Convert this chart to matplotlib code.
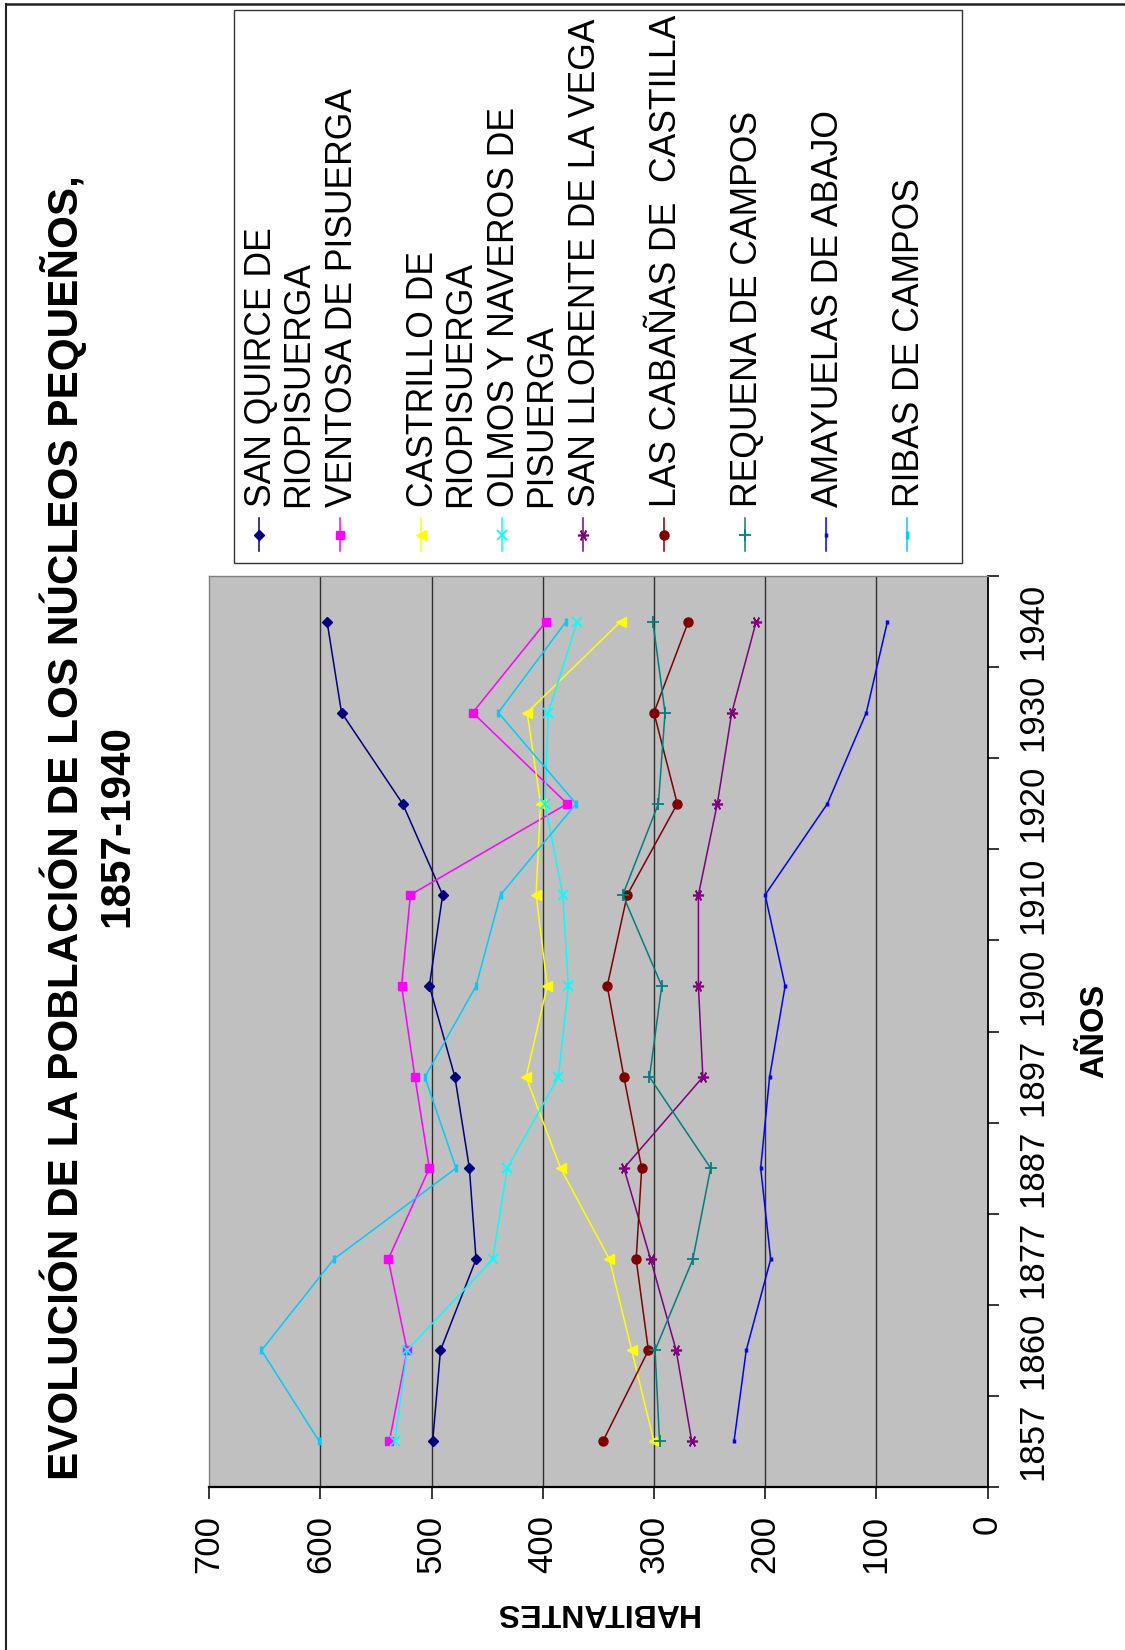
import numpy as np
import matplotlib
matplotlib.use("Agg")
import matplotlib.pyplot as plt

# population of the small villages, one value per year
years = ["1857", "1860", "1877", "1887", "1897", "1900", "1910", "1920", "1930", "1940"]

san_quirce = [499, 492, 460, 466, 479, 502, 490, 526, 581, 594]
ventosa = [538, 522, 539, 502, 515, 527, 519, 378, 463, 397]
castrillo = [300, 320, 340, 384, 415, 396, 406, 402, 414, 330]
olmos = [533, 522, 445, 432, 386, 377, 382, 398, 395, 369]
san_llorente = [266, 280, 303, 327, 256, 260, 260, 243, 230, 208]
cabanas = [346, 305, 316, 311, 327, 342, 324, 279, 300, 269]
requena = [295, 299, 265, 249, 304, 293, 328, 296, 290, 301]
amayuelas = [228, 217, 195, 204, 196, 182, 200, 144, 109, 90]
ribas = [601, 653, 588, 478, 506, 460, 438, 370, 440, 379]

legend_labels = [
    "SAN QUIRCE DE\nRIOPISUERGA",
    "VENTOSA DE PISUERGA",
    "CASTRILLO DE\nRIOPISUERGA",
    "OLMOS Y NAVEROS DE\nPISUERGA",
    "SAN LLORENTE DE LA VEGA",
    "LAS CABAÑAS DE  CASTILLA",
    "REQUENA DE CAMPOS",
    "AMAYUELAS DE ABAJO",
    "RIBAS DE CAMPOS",
]

series = [san_quirce, ventosa, castrillo, olmos, san_llorente,
          cabanas, requena, amayuelas, ribas]

# styles (Excel default palette)
styles = [
    dict(color="#000080", marker="D", ms=5.5),
    dict(color="#FF00FF", marker="s", ms=5.5),
    dict(color="#FFFF00", marker="<", ms=7),
    dict(color="#00FFFF", marker="x", ms=7, mew=1.3),
    dict(color="#800080", marker=(6, 2, 90), ms=8, mew=1.2),
    dict(color="#800000", marker="o", ms=6.5),
    dict(color="#008080", marker="+", ms=8, mew=1.3),
    dict(color="#0000FF", marker="|", ms=3.5, mew=2.5),
    dict(color="#00CCFF", marker="|", ms=6, mew=2.4),
]

plt.rcParams['font.family'] = ['Liberation Sans', 'DejaVu Sans']

fig = plt.figure(figsize=(11.25, 16.5), dpi=100)

# main plot, drawn already turned a quarter turn
ax = fig.add_axes([209.2 / 1125, 1 - 1487 / 1650, (987.5 - 209.2) / 1125, (1487 - 576) / 1650])
ax.set_facecolor("#C0C0C0")
ypos = np.arange(len(years))

for vals, st in zip(series, styles):
    ax.plot(vals, ypos, lw=1.1, mec=st["color"], mfc=st["color"], clip_on=False, zorder=3, **st)

ax.set_xlim(700, 0)
ax.set_ylim(-0.5, len(years) - 0.5)

xt = list(range(0, 701, 100))
ax.set_xticks(xt)
ax.set_xticklabels([str(v) for v in xt])
for v in xt[1:-1]:
    ax.axvline(v, color="#303030", lw=1.0, zorder=1)
ax.tick_params(axis="x", length=8.6, width=1.1, pad=11.5, labelsize=25,
               labelrotation=90, direction="out", color="black")

ax.yaxis.tick_right()
ax.set_yticks(np.arange(-0.5, len(years), 1))
ax.set_yticklabels([])
ax.set_yticks(ypos, minor=True)
ax.set_yticklabels(years, minor=True)
ax.tick_params(axis="y", which="major", length=7.6, width=1.1, direction="out",
               right=True, left=False, color="black")
ax.tick_params(axis="y", which="minor", length=0, pad=20.5, labelsize=25,
               labelrotation=90, right=True, left=False, labelright=True, labelleft=False)
plt.setp(ax.get_yticklabels(minor=True), va="center")

ax.spines["bottom"].set_color("black")
ax.spines["bottom"].set_linewidth(1.6)
ax.spines["right"].set_color("black")
ax.spines["right"].set_linewidth(1.3)
for s in ["top", "left"]:
    ax.spines[s].set_color("#808080")
    ax.spines[s].set_linewidth(1.0)

# overlay in pixel units for title, axis titles, legend and page frame
ov = fig.add_axes([0, 0, 1, 1])
ov.set_xlim(0, 1125)
ov.set_ylim(1650, 0)
ov.axis("off")

ov.plot([6, 6], [4, 1650], color="#222222", lw=1.5)
ov.plot([6, 1125], [4, 4], color="#222222", lw=1.8)

ov.text(78, 828, "EVOLUCIÓN DE LA POBLACIÓN DE LOS NÚCLEOS PEQUEÑOS,", rotation=90,
        rotation_mode="anchor", ha="center", va="baseline", fontsize=30.4, fontweight="bold")
ov.text(128, 826, "1857-1940", rotation=90, rotation_mode="anchor", ha="center",
        va="baseline", fontsize=30.4, fontweight="bold")

ov.text(596, 1604, "HABITANTES", rotation=180, rotation_mode="anchor", ha="center",
        va="baseline", fontsize=23, fontweight="bold")
ov.text(1103, 1031, "AÑOS", rotation=90, rotation_mode="anchor", ha="center",
        va="baseline", fontsize=23.5, fontweight="bold")

# legend box, drawn by hand because the text runs upwards
ov.add_patch(plt.Rectangle((233.5, 10), 962 - 233.5, 563 - 10, facecolor="white",
                           edgecolor="#333333", lw=1.0))
for i, (label, st) in enumerate(zip(legend_labels, styles)):
    mx = 259 + i * 81
    ov.plot([mx, mx], [518, 551], color=st["color"], lw=1.1)
    ov.plot([mx], [535], lw=0, mec=st["color"], mfc=st["color"], **st)
    for j, line in enumerate(label.split("\n")):
        ov.text(mx + 12 + j * 36.7, 507, line, rotation=90, rotation_mode="anchor",
                ha="left", va="baseline", fontsize=25.6)

fig.savefig("out.png", dpi=100)
